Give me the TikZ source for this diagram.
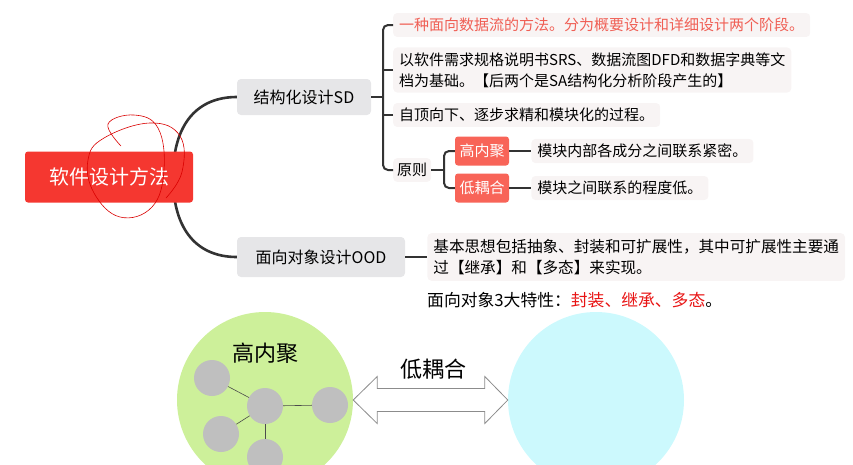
\documentclass[tikz,border=0pt]{standalone}
\usepackage{fontspec}
\setmainfont{Noto Sans CJK SC}
\usepackage{tikz}
\usetikzlibrary{positioning, calc, backgrounds}

\definecolor{rootred}{RGB}{245,55,48}
\definecolor{tagred}{RGB}{248,100,88}
\definecolor{topicgray}{RGB}{230,230,232}
\definecolor{leafgray}{RGB}{248,244,244}
\definecolor{linkgray}{RGB}{51,51,51}
\definecolor{notered}{RGB}{240,95,85}
\definecolor{keyred}{RGB}{232,20,20}
\definecolor{cohesion}{RGB}{205,240,154}
\definecolor{coupling}{RGB}{204,249,253}
\definecolor{ballgray}{RGB}{191,191,191}

\begin{document}
\begin{tikzpicture}[
			x=1pt, y=-1pt,
			root/.style={rectangle, fill=rootred, text=white, rounded corners=3pt, minimum width=168, minimum height=51, font=\fontsize{20}{22}\selectfont},
			topic/.style={rectangle, fill=topicgray, rounded corners=4pt, minimum height=36, font=\fontsize{16}{18}\selectfont},
			leaf/.style={rectangle, fill=leafgray, rounded corners=4pt, anchor=west, align=left, inner xsep=6pt, inner ysep=5pt, font=\fontsize{15}{21}\selectfont},
			tag/.style={rectangle, fill=tagred, text=white, rounded corners=3pt, minimum width=54, minimum height=29, inner xsep=3pt, font=\fontsize{15}{18}\selectfont},
			trunk/.style={draw=linkgray, line width=2.6pt},
			link/.style={draw=linkgray, line width=2pt, rounded corners=5pt},
			ball/.style={circle, fill=ballgray, minimum size=36},
			bond/.style={draw=black!70, line width=0.6pt},
			hollow/.style={draw=black!45, fill=white, line width=0.8pt}
			]
			\clip (0,0) rectangle (853,464);
			
			% mind map
			\node[root] (root) at (109,177) {软件设计方法};
			\node[topic, minimum width=134] (sd) at (304,97) {结构化设计SD};
			\node[topic, minimum width=168, minimum height=40] (ood) at (321,257) {面向对象设计OOD};
			
			\node[leaf, text=notered] (l1) at (393,25) {一种面向数据流的方法。分为概要设计和详细设计两个阶段。};
			\node[leaf] (l2) at (393,70) {以软件需求规格说明书SRS、数据流图DFD和数据字典等文\\档为基础。【后两个是SA结构化分析阶段产生的】};
			\node[leaf] (l3) at (393,115) {自顶向下、逐步求精和模块化的过程。};
			\node[leaf, inner xsep=4pt] (l4) at (393,170) {原则};
			
			\node[tag] (gnj) at (482,151) {高内聚};
			\node[tag] (dor) at (482,188) {低耦合};
			\node[leaf] (gnjd) [right=22pt of gnj] {模块内部各成分之间联系紧密。};
			\node[leaf] (dord) [right=22pt of dor] {模块之间联系的程度低。};
			
			\node[leaf, inner ysep=6pt, font=\fontsize{15.6}{21}\selectfont] (oodd) [right=22pt of ood] {基本思想包括抽象、封装和可扩展性，其中可扩展性主要通\\过【继承】和【多态】来实现。};
			\node[anchor=west, inner sep=0pt, font=\fontsize{16.8}{18}\selectfont] (traits) at (427,300) {面向对象3大特性：\textcolor{keyred}{封装、继承、多态}。};
			
			% trunk behind the root
			\coordinate (hub) at (173,177);
			\begin{scope}[on background layer]
				\draw[trunk] (hub) .. controls +(0,-55) and +(-38,0) .. (sd.west);
				\draw[trunk] (hub) .. controls +(0,55) and +(-38,0) .. (ood.west);
			\end{scope}
			
			% scribble over the root
			\draw[red!85!black, line width=0.6pt] plot[smooth, tension=0.7] coordinates {(121,146) (108,124) (134,115) (158,128) (164,170) (152,207) (120,217) (94,193) (88,160) (104,138) (150,123) (180,136) (182,172) (166,198)};
			
			% brackets
			\coordinate (sdfork) at (383,97);
			\draw[link] (sd.east) -- (sdfork);
			\draw[link] (l1.west) -| (sdfork) |- (l4.west);
			\draw[link] (l2.west) -- (l2.west -| sdfork);
			\draw[link] (l3.west) -- (l3.west -| sdfork);
			
			\coordinate (yzfork) at (444,170);
			\draw[link] (l4.east) -- (yzfork);
			\draw[link] (gnj.west) -| (yzfork) |- (dor.west);
			\draw[link] (gnj.east) -- (gnjd.west);
			\draw[link] (dor.east) -- (dord.west);
			\draw[link] (ood.east) -- (oodd.west);
			
			% cohesion and coupling
			\node[circle, fill=cohesion, minimum size=176] (green) at (265,400) {};
			\node[circle, fill=coupling, minimum size=176] (cyan) at (596,400) {};
			\node[font=\fontsize{22}{24}\selectfont] (glabel) at (265,353) {高内聚};
			\node[font=\fontsize{22}{24}\selectfont] (clabel) at (433,369) {低耦合};
			
			\node[ball] (b1) at (212,378) {};
			\node[ball] (b2) at (265,406) {};
			\node[ball] (b3) at (330,405) {};
			\node[ball] (b4) at (221,434) {};
			\node[ball] (b5) at (265,457) {};
			\foreach \m in {b1, b3, b4, b5}
				\draw[bond] (b2) -- (\m);
			
			\draw[hollow] (green.east) -- ++(24,-23.5) -- ++(0,12) -- ($(cyan.west)+(-23,-11.5)$) -- ++(0,-12) -- (cyan.west) -- ++(-23,23.5) -- ++(0,-12) -- ($(green.east)+(24,11.5)$) -- ++(0,12) -- cycle;
		\end{tikzpicture}
\end{document}
